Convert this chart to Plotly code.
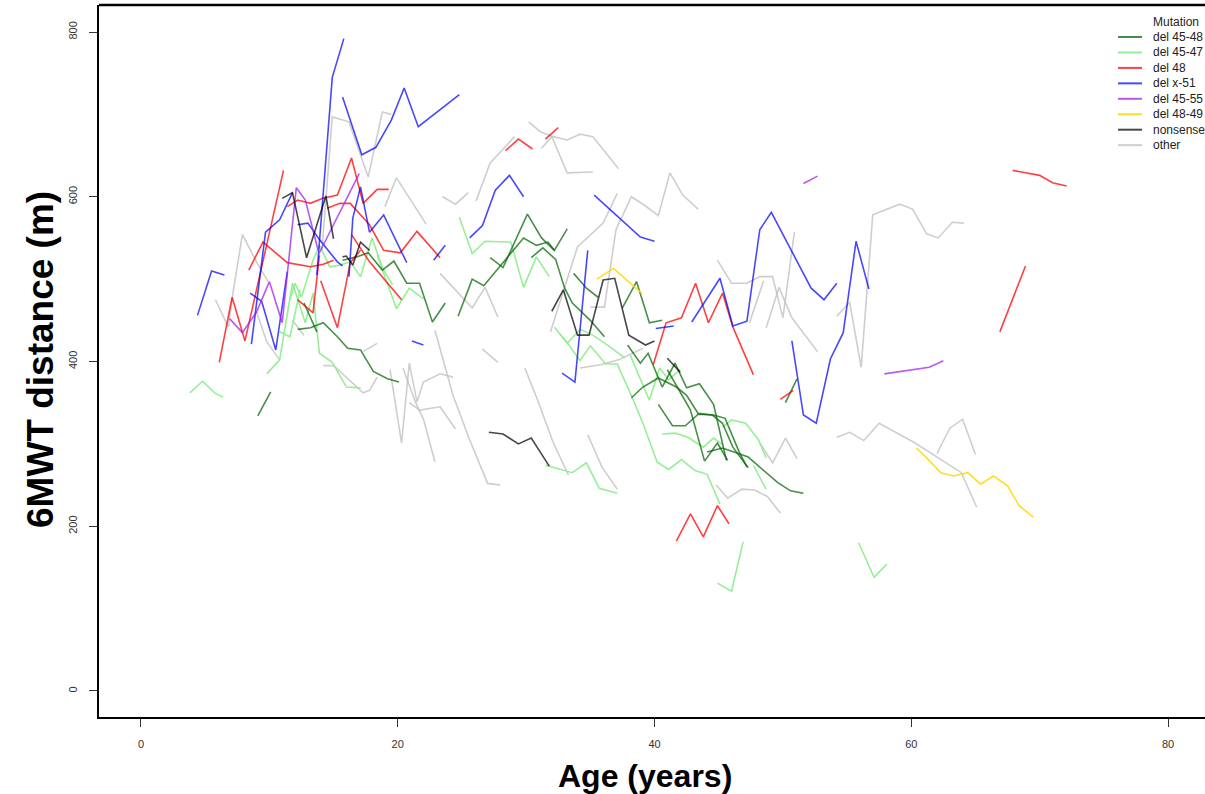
import plotly.graph_objects as go

# ---------------- data: one (ages, 6MWT) pair per subject ----------------
# del x-51
b01_age = [4.4, 5.5, 6.5];                      b01_m = [456, 510, 505]
b02_age = [8.6, 9.7, 10.8, 11.8];               b02_m = [421, 557, 572, 605]
b03_age = [8.5, 9.4, 10.5, 11.4];               b03_m = [483, 473, 414, 509]
b04_age = [12.2, 13.0, 13.9, 15.3, 15.7];       b04_m = [566, 568, 548, 521, 516]
b05_age = [13.7, 14.9, 15.8];                   b05_m = [505, 745, 792]
b06_age = [15.7, 17.2, 18.3, 19.5, 20.5, 21.6, 24.8]; b06_m = [721, 651, 660, 693, 732, 685, 724]
b07_age = [16.2, 16.5, 17.1, 17.8, 18.9, 20.7]; b07_m = [503, 574, 612, 557, 578, 520]
b08_age = [21.1, 22.0];                         b08_m = [425, 420]
b09_age = [22.8, 23.7];                         b09_m = [523, 541]
b10_age = [25.6, 26.6, 27.6, 28.7, 29.8];       b10_m = [550, 565, 608, 626, 600]
b11_age = [35.3, 38.9, 40.0];                   b11_m = [602, 551, 546]
b12_age = [32.8, 33.8, 34.8];                   b12_m = [386, 375, 535]
b13_age = [40.1, 41.5];                         b13_m = [440, 443]
b14_age = [42.9, 45.1, 46.1, 47.2, 48.2, 49.1, 52.2, 53.2, 54.2]; b14_m = [448, 501, 443, 449, 560, 581, 489, 475, 495]
b15_age = [50.7, 51.6, 52.6, 53.7, 54.7, 55.7, 56.7]; b15_m = [425, 335, 325, 403, 435, 546, 488]

# del 48
r01_age = [6.1, 7.1, 8.1, 11.1];                r01_m = [399, 478, 425, 632]
r02_age = [8.4, 9.5, 11.4, 13.2, 14.2, 15.0];   r02_m = [511, 545, 520, 515, 518, 523]
r03_age = [11.4, 12.2, 13.2, 14.1, 15.3, 16.4, 17.3, 18.4, 19.3]; r03_m = [588, 596, 592, 598, 602, 647, 592, 609, 609]
r04_age = [14.5, 15.5, 16.3, 17.1, 17.8, 18.9, 20.2, 21.5, 23.3]; r04_m = [586, 592, 592, 578, 566, 535, 532, 558, 526]
r05_age = [12.2, 13.4, 13.9];                   r05_m = [475, 459, 529]
r06_age = [14.0, 15.3, 16.3, 17.1];             r06_m = [498, 441, 520, 535]
r07_age = [16.4, 17.8, 20.3];                   r07_m = [554, 521, 475]
r08_age = [28.4, 29.4, 30.5];                   r08_m = [656, 670, 658]
r09_age = [31.5, 32.5];                         r09_m = [670, 684]
r10_age = [39.9, 40.9, 42.1, 43.2, 44.2, 45.3, 46.1, 47.7]; r10_m = [396, 447, 453, 495, 447, 483, 442, 384]
r11_age = [49.8, 50.8];                         r11_m = [354, 365]
r12_age = [41.7, 42.8, 43.8, 44.9, 45.8];       r12_m = [182, 215, 187, 225, 203]
r13_age = [66.9, 68.9];                         r13_m = [436, 516]
r14_age = [67.9, 70.0, 71.0, 72.1];             r14_m = [632, 626, 617, 613]

# del 45-55
p01_age = [6.9, 7.9, 9.0, 10.0, 11.0, 12.1, 12.8, 13.8]; p01_m = [452, 435, 460, 497, 447, 611, 596, 535]
p02_age = [13.8, 17.0];                         p02_m = [529, 628]
p03_age = [57.9, 61.4, 62.5];                   p03_m = [385, 393, 401]
p04_age = [51.6, 52.7];                         p04_m = [616, 625]

# del 48-49
y01_age = [35.5, 36.8, 39.0];                   y01_m = [500, 513, 483]
y02_age = [60.4, 61.2, 62.3, 63.3, 64.4, 65.4, 66.4, 67.5, 68.4, 69.5]; y02_m = [295, 283, 265, 261, 265, 251, 261, 249, 225, 211]

# nonsense
n01_age = [11.0, 11.8, 12.9, 14.4, 15.0];       n01_m = [598, 605, 526, 601, 549]
n02_age = [15.7, 16.0, 16.5, 17.1, 17.8];       n02_m = [527, 528, 517, 545, 535]
n03_age = [32.0, 32.9, 34.0, 34.9, 36.0, 36.9, 38.0, 39.3, 40.0]; n03_m = [461, 487, 432, 432, 499, 501, 432, 420, 425]
n04_age = [27.1, 28.2, 29.4, 30.4, 31.8];       n04_m = [314, 312, 300, 307, 273]
n05_age = [41.0, 42.0];                         n05_m = [404, 387]

# del 45-48
d01_age = [9.1, 10.1];                          d01_m = [334, 363]
d02_age = [12.2, 13.2, 14.2, 15.3, 16.1, 17.1, 18.1, 19.2, 20.1]; d02_m = [439, 441, 447, 430, 416, 414, 388, 379, 375]
d03_age = [12.7, 13.7];                         d03_m = [471, 436]
d04_age = [15.7, 16.8, 17.7, 18.8, 19.7, 20.7, 21.7, 22.7, 23.7]; d04_m = [523, 527, 532, 511, 522, 495, 495, 448, 471]
d05_age = [24.7, 25.8, 26.7, 29.8, 30.8, 31.7, 32.2, 33.2]; d05_m = [455, 500, 492, 550, 541, 545, 535, 561]
d06_age = [27.2, 28.2, 30.1, 31.2, 32.2];       d06_m = [526, 514, 579, 550, 535]
d07_age = [30.4, 31.3, 32.3, 33.0, 33.6, 35.0, 36.1]; d07_m = [526, 538, 524, 489, 471, 450, 430]
d08_age = [33.7, 34.7, 35.6];                   d08_m = [507, 489, 478]
d09_age = [37.5, 38.6, 39.6, 40.6];             d09_m = [465, 497, 447, 450]
d10_age = [37.9, 38.9, 39.5, 40.6, 41.6, 42.5, 43.5, 44.6, 45.6]; d10_m = [420, 398, 410, 369, 398, 368, 373, 348, 280]
d11_age = [38.2, 39.1, 40.3, 41.7, 42.5, 43.4, 44.5, 45.3, 46.1, 47.3]; d11_m = [356, 369, 380, 369, 359, 337, 335, 325, 296, 271]
d12_age = [40.3, 41.4, 42.4, 43.4, 44.6, 45.5, 46.6, 47.2]; d12_m = [348, 322, 322, 336, 335, 331, 290, 272]
d13_age = [41.0, 42.8, 43.9, 44.9, 45.7];       d13_m = [390, 341, 279, 301, 280]
d14_age = [44.1, 45.3, 47.3, 48.2, 49.6, 50.6, 51.6]; d14_m = [290, 295, 284, 272, 253, 243, 240]
d15_age = [50.2, 51.1];                         d15_m = [350, 379]

# del 45-47
l01_age = [3.8, 4.8, 5.8, 6.4];                 l01_m = [362, 376, 361, 357]
l02_age = [9.8, 10.8, 11.8, 12.8, 13.4, 13.9, 14.9, 16.0, 17.1]; l02_m = [385, 402, 495, 447, 483, 410, 399, 369, 368]
l03_age = [11.6, 12.0, 12.5, 13.4, 13.9, 14.7, 15.5, 16.3, 17.1, 18.0, 18.8, 19.6]; l03_m = [475, 495, 478, 523, 541, 515, 517, 521, 503, 550, 514, 493]
l04_age = [18.4, 19.9, 20.9, 22.0];             l04_m = [529, 464, 489, 476]
l05_age = [10.8, 11.6, 12.4];                   l05_m = [436, 430, 487]
l06_age = [24.8, 25.8, 26.8, 28.8, 29.8, 30.8, 31.8]; l06_m = [575, 531, 546, 545, 490, 527, 503]
l07_age = [32.6, 33.2, 34.2, 35.0, 36.2, 37.1, 38.3, 39.1, 40.2, 41.1, 42.1, 43.1, 44.1, 45.1]; l07_m = [434, 423, 401, 419, 397, 397, 355, 325, 278, 269, 281, 268, 263, 227]
l08_age = [32.2, 33.2, 34.2, 35.2, 36.5, 37.7]; l08_m = [442, 422, 439, 432, 418, 404]
l09_age = [40.6, 41.6, 42.6, 43.8, 44.6, 45.3]; l09_m = [312, 313, 308, 296, 307, 299]
l10_age = [45.3, 46.0, 47.1, 48.1, 48.7];       l10_m = [320, 329, 325, 305, 283]
l11_age = [47.7, 48.7];                         l11_m = [274, 245]
l12_age = [38.1, 38.9, 39.6, 40.4, 41.1, 42.0]; l12_m = [408, 378, 353, 392, 378, 390]
l13_age = [31.5, 33.6, 34.7, 35.7, 37.1];       l13_m = [274, 265, 277, 246, 240]
l14_age = [44.9, 46.0, 46.9];                   l14_m = [131, 121, 181]
l15_age = [55.9, 57.1, 58.1];                   l15_m = [180, 138, 154]

# other
o01_age = [5.8, 6.8, 7.2, 7.9, 9.0, 9.9];       o01_m = [475, 442, 487, 554, 521, 497]
o02_age = [14.1, 14.9, 16.2, 17.7, 18.8, 19.5]; o02_m = [535, 697, 691, 624, 703, 700]
o03_age = [19.0, 19.9, 22.2];                   o03_m = [588, 623, 567]
o04_age = [23.5, 24.5, 25.5];                   o04_m = [600, 591, 605]
o05_age = [26.1, 27.2, 29.1];                   o05_m = [595, 641, 673]
o06_age = [30.2, 31.1, 32.1, 33.2, 34.2, 35.2, 37.2]; o06_m = [691, 679, 673, 669, 676, 673, 634]
o07_age = [31.2, 32.0, 33.2, 35.2];             o07_m = [659, 673, 629, 630]
o08_age = [31.9, 34.0, 36.0, 37.1];             o08_m = [436, 539, 568, 604]
o09_age = [35.0, 36.1, 37.0, 38.2, 39.2, 40.3, 41.2, 42.2, 43.4]; o09_m = [466, 466, 560, 600, 590, 577, 629, 602, 585]
o10_age = [23.3, 25.8, 26.8, 27.8];             o10_m = [507, 465, 490, 454]
o11_age = [17.3, 18.4];                         o11_m = [412, 422]
o12_age = [14.2, 15.0, 17.3, 17.8, 18.4];       o12_m = [395, 395, 362, 365, 381]
o13_age = [19.4, 20.3, 20.9, 21.5, 22.0, 23.3, 24.3]; o13_m = [390, 301, 398, 351, 375, 385, 381]
o14_age = [20.4, 21.4, 22.0, 22.9];             o14_m = [392, 350, 330, 278]
o15_age = [20.9, 21.7, 23.3, 24.5];             o15_m = [350, 341, 345, 318]
o16_age = [22.9, 24.3, 25.6, 27.0, 28.0];       o16_m = [438, 359, 305, 252, 250]
o17_age = [26.6, 27.8];                         o17_m = [415, 399]
o18_age = [29.9, 30.9, 32.1, 33.3];             o18_m = [392, 353, 302, 262]
o19_age = [34.8, 35.9, 37.1];                   o19_m = [311, 272, 245]
o20_age = [34.2, 35.8, 37.2, 39.1];             o20_m = [392, 396, 402, 416]
o21_age = [44.8, 45.7, 46.8, 47.8, 48.8, 49.8]; o21_m = [250, 234, 245, 244, 236, 216]
o22_age = [48.2, 49.2, 50.2, 51.1];             o22_m = [301, 277, 307, 282]
o23_age = [44.9, 46.0, 47.2, 48.2, 49.2, 50.0, 50.9]; o23_m = [523, 495, 495, 503, 503, 453, 557]
o24_age = [47.4, 48.5];                         o24_m = [447, 498]
o25_age = [48.7, 49.7, 50.7, 52.7];             o25_m = [441, 490, 453, 412]
o26_age = [54.2, 55.2, 56.1, 57.0, 59.1, 60.1, 61.2, 62.1, 63.2, 64.1]; o26_m = [455, 472, 393, 578, 591, 585, 555, 550, 569, 568]
o27_age = [54.2, 55.2, 56.3, 57.5, 60.3, 63.9, 65.1]; o27_m = [308, 314, 304, 325, 301, 265, 223]
o28_age = [62.0, 63.0, 64.0, 65.0];             o28_m = [288, 319, 330, 287]
o29_age = [11.8, 12.7];                         o29_m = [450, 432]
o30_age = [9.0, 9.8, 10.8];                     o30_m = [460, 424, 402]

mutations = ["del 45-48", "del 45-47", "del 48", "del x-51",
             "del 45-55", "del 48-49", "nonsense", "other"]

subjects = [
    ("other", o01_age, o01_m), ("other", o02_age, o02_m), ("other", o03_age, o03_m),
    ("other", o04_age, o04_m), ("other", o05_age, o05_m), ("other", o06_age, o06_m),
    ("other", o07_age, o07_m), ("other", o08_age, o08_m), ("other", o09_age, o09_m),
    ("other", o10_age, o10_m), ("other", o11_age, o11_m), ("other", o12_age, o12_m),
    ("other", o13_age, o13_m), ("other", o14_age, o14_m), ("other", o15_age, o15_m),
    ("other", o16_age, o16_m), ("other", o17_age, o17_m), ("other", o18_age, o18_m),
    ("other", o19_age, o19_m), ("other", o20_age, o20_m), ("other", o21_age, o21_m),
    ("other", o22_age, o22_m), ("other", o23_age, o23_m), ("other", o24_age, o24_m),
    ("other", o25_age, o25_m), ("other", o26_age, o26_m), ("other", o27_age, o27_m),
    ("other", o28_age, o28_m), ("other", o29_age, o29_m), ("other", o30_age, o30_m),
    ("del 45-47", l01_age, l01_m), ("del 45-47", l02_age, l02_m), ("del 45-47", l03_age, l03_m),
    ("del 45-47", l04_age, l04_m), ("del 45-47", l05_age, l05_m), ("del 45-47", l06_age, l06_m),
    ("del 45-47", l07_age, l07_m), ("del 45-47", l08_age, l08_m), ("del 45-47", l09_age, l09_m),
    ("del 45-47", l10_age, l10_m), ("del 45-47", l11_age, l11_m), ("del 45-47", l12_age, l12_m),
    ("del 45-47", l13_age, l13_m), ("del 45-47", l14_age, l14_m), ("del 45-47", l15_age, l15_m),
    ("del 45-48", d01_age, d01_m), ("del 45-48", d02_age, d02_m), ("del 45-48", d03_age, d03_m),
    ("del 45-48", d04_age, d04_m), ("del 45-48", d05_age, d05_m), ("del 45-48", d06_age, d06_m),
    ("del 45-48", d07_age, d07_m), ("del 45-48", d08_age, d08_m), ("del 45-48", d09_age, d09_m),
    ("del 45-48", d10_age, d10_m), ("del 45-48", d11_age, d11_m), ("del 45-48", d12_age, d12_m),
    ("del 45-48", d13_age, d13_m), ("del 45-48", d14_age, d14_m), ("del 45-48", d15_age, d15_m),
    ("del 48", r01_age, r01_m), ("del 48", r02_age, r02_m), ("del 48", r03_age, r03_m),
    ("del 48", r04_age, r04_m), ("del 48", r05_age, r05_m), ("del 48", r06_age, r06_m),
    ("del 48", r07_age, r07_m), ("del 48", r08_age, r08_m), ("del 48", r09_age, r09_m),
    ("del 48", r10_age, r10_m), ("del 48", r11_age, r11_m), ("del 48", r12_age, r12_m),
    ("del 48", r13_age, r13_m), ("del 48", r14_age, r14_m),
    ("del x-51", b01_age, b01_m), ("del x-51", b02_age, b02_m), ("del x-51", b03_age, b03_m),
    ("del x-51", b04_age, b04_m), ("del x-51", b05_age, b05_m), ("del x-51", b06_age, b06_m),
    ("del x-51", b07_age, b07_m), ("del x-51", b08_age, b08_m), ("del x-51", b09_age, b09_m),
    ("del x-51", b10_age, b10_m), ("del x-51", b11_age, b11_m), ("del x-51", b12_age, b12_m),
    ("del x-51", b13_age, b13_m), ("del x-51", b14_age, b14_m), ("del x-51", b15_age, b15_m),
    ("del 45-55", p01_age, p01_m), ("del 45-55", p02_age, p02_m),
    ("del 45-55", p03_age, p03_m), ("del 45-55", p04_age, p04_m),
    ("del 48-49", y01_age, y01_m), ("del 48-49", y02_age, y02_m),
    ("nonsense", n01_age, n01_m), ("nonsense", n02_age, n02_m), ("nonsense", n03_age, n03_m),
    ("nonsense", n04_age, n04_m), ("nonsense", n05_age, n05_m),
]

x_ticks = [0, 20, 40, 60, 80]
y_ticks = [0, 200, 400, 600, 800]

# ---------------- styling ----------------
COLORS = {
    "del 45-48": "rgba(0,100,0,0.72)",
    "del 45-47": "rgba(144,238,144,0.95)",
    "del 48":    "rgba(255,0,0,0.75)",
    "del x-51":  "rgba(0,0,255,0.72)",
    "del 45-55": "rgba(160,32,240,0.75)",
    "del 48-49": "rgba(255,215,0,0.85)",
    "nonsense":  "rgba(0,0,0,0.72)",
    "other":     "rgba(190,190,190,0.75)",
}

W, H = 1205, 794
ML, MR, MT, MB = 99, 0, 5, 77
PW, PH = W - ML - MR, H - MT - MB

# axis ranges (R-style padded limits extending past the right image edge)
X_RANGE = [-3.27, 82.88]
Y_RANGE = [-31.6, 832.8]

FONT = "Liberation Sans, Arial, Helvetica, sans-serif"

fig = go.Figure()
for grp, ages, dist in subjects:
    fig.add_trace(go.Scatter(
        x=ages, y=dist, mode="lines",
        line=dict(color=COLORS[grp], width=1.6),
        showlegend=False, hoverinfo="skip"))


def px_x(px):
    return (px - ML) / PW


def px_y(py):
    return (H - MB - py) / PH


annotations = [
    dict(text="Age (years)", xref="paper", yref="paper",
         x=px_x(645), y=px_y(776), xanchor="center", yanchor="middle",
         showarrow=False, font=dict(family=FONT, size=32, color="black", weight="bold")),
    dict(text="6MWT distance (m)", xref="paper", yref="paper",
         x=px_x(40), y=px_y(360), xanchor="center", yanchor="middle", textangle=-90,
         showarrow=False, font=dict(family=FONT, size=37, color="black", weight="bold")),
    dict(text="Mutation", xref="paper", yref="paper",
         x=px_x(1151), y=px_y(22), xanchor="left", yanchor="middle",
         showarrow=False, font=dict(family=FONT, size=12, color="#222")),
]
shapes = [
    dict(type="line", xref="paper", yref="paper", x0=0, x1=1, y0=1, y1=1,
         line=dict(color="black", width=2.5)),
]
for i, grp in enumerate(mutations):
    yy = px_y(37 + 15.45 * i)
    shapes.append(dict(type="line", xref="paper", yref="paper",
                       x0=px_x(1118), x1=px_x(1142), y0=yy, y1=yy,
                       line=dict(color=COLORS[grp], width=2)))
    annotations.append(dict(text=grp, xref="paper", yref="paper",
                            x=px_x(1151), y=yy, xanchor="left", yanchor="middle",
                            showarrow=False,
                            font=dict(family=FONT, size=12, color="#222")))

fig.update_layout(
    width=W, height=H,
    margin=dict(l=ML, r=MR, t=MT, b=MB, pad=0),
    paper_bgcolor="white", plot_bgcolor="white",
    showlegend=False,
    annotations=annotations, shapes=shapes,
    xaxis=dict(range=X_RANGE, tickvals=x_ticks, showgrid=False, zeroline=False,
               showline=True, linecolor="black", linewidth=2,
               ticks="outside", ticklen=8, tickwidth=1, tickcolor="#333",
               ticklabelstandoff=8,
               tickfont=dict(family=FONT, size=11, color="#333")),
    yaxis=dict(range=Y_RANGE, tickvals=y_ticks, showgrid=False, zeroline=False,
               showline=True, linecolor="black", linewidth=1.5,
               ticks="outside", ticklen=8, tickwidth=1, tickcolor="#333",
               tickangle=-90, ticklabelstandoff=8,
               tickfont=dict(family=FONT, size=11, color="#333")),
)

fig.write_html("out.html",
               config={"displayModeBar": False},
               post_script="document.body.style.margin='0';document.body.style.padding='0';")
